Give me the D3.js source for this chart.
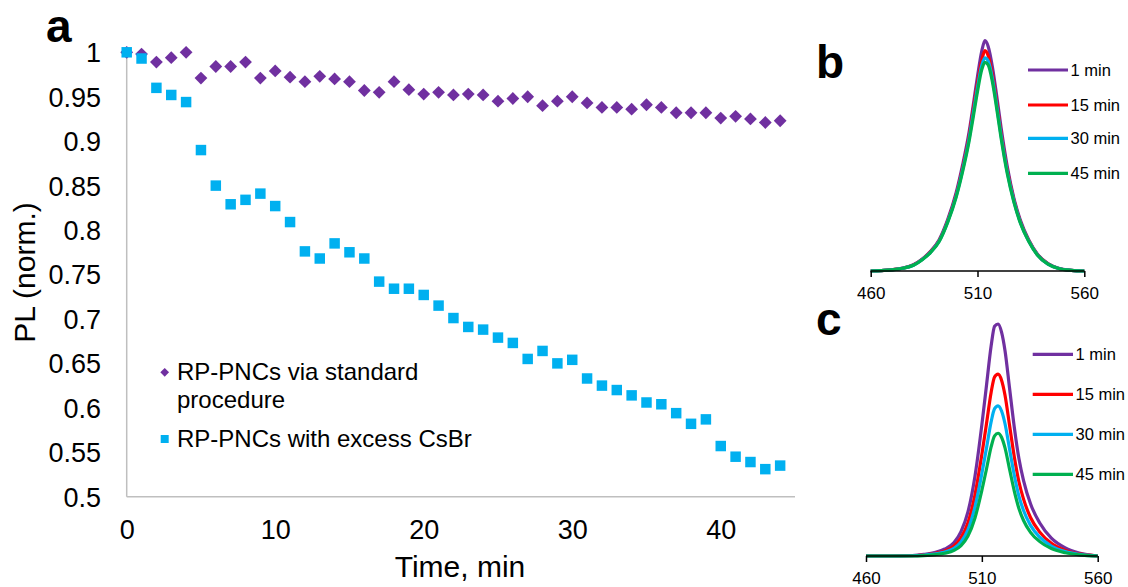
<!DOCTYPE html>
<html><head><meta charset="utf-8">
<script src="https://cdn.jsdelivr.net/npm/d3@7"></script>
<style>
html,body{margin:0;padding:0;background:#fff;}
svg{display:block;font-family:"Liberation Sans",Arial,sans-serif;}
</style></head>
<body><svg id="c" width="1128" height="587"></svg>
<script>
// ---------- Panel a data ----------
const times = [0,1,2,3,4,5,6,7,8,9,10,11,12,13,14,15,16,17,18,19,20,21,22,23,24,25,26,27,28,29,30,31,32,33,34,35,36,37,38,39,40,41,42,43,44];
const standardPL = [1.000,0.998,0.989,0.994,1.000,0.971,0.984,0.984,0.989,0.971,0.979,0.972,0.967,0.973,0.970,0.967,0.957,0.955,0.967,0.958,0.953,0.955,0.952,0.953,0.952,0.945,0.948,0.950,0.940,0.945,0.950,0.943,0.938,0.938,0.936,0.941,0.938,0.932,0.932,0.932,0.926,0.928,0.925,0.921,0.923];
const excessPL = [1.000,0.993,0.960,0.952,0.944,0.890,0.850,0.829,0.834,0.841,0.827,0.809,0.776,0.768,0.785,0.775,0.768,0.742,0.734,0.734,0.727,0.715,0.701,0.691,0.688,0.679,0.673,0.655,0.664,0.650,0.654,0.633,0.625,0.620,0.614,0.606,0.604,0.594,0.582,0.587,0.557,0.545,0.539,0.531,0.535];
const seriesNames = ["RP-PNCs via standard procedure","RP-PNCs with excess CsBr"];
const yTicksA = [1,0.95,0.9,0.85,0.8,0.75,0.7,0.65,0.6,0.55,0.5];
const xTicksA = [0,10,20,30,40];

// ---------- Panel b data (PL spectra, standard) ----------
const wlB = [460,465,470,475,480,484,488,492,496,500,503,506,508,510,512,513.5,515,517,519,521,524,527,530,534,538,543,548,554,560];
const b1min  = [0,0.002,0.006,0.013,0.027,0.051,0.085,0.135,0.222,0.340,0.460,0.600,0.720,0.845,0.955,1.000,0.975,0.885,0.760,0.625,0.450,0.318,0.222,0.135,0.074,0.032,0.012,0.003,0];
const b15min = [0,0.002,0.006,0.012,0.026,0.050,0.083,0.131,0.216,0.330,0.446,0.582,0.700,0.815,0.915,0.957,0.935,0.852,0.732,0.602,0.435,0.310,0.216,0.132,0.072,0.031,0.011,0.003,0];
const b30min = [0,0.002,0.005,0.012,0.025,0.049,0.081,0.129,0.213,0.325,0.438,0.571,0.684,0.797,0.893,0.925,0.912,0.836,0.718,0.591,0.428,0.305,0.213,0.130,0.071,0.030,0.011,0.003,0];
const b45min = [0,0.002,0.005,0.012,0.025,0.048,0.080,0.127,0.210,0.320,0.430,0.560,0.668,0.780,0.875,0.906,0.895,0.820,0.705,0.580,0.420,0.300,0.210,0.128,0.070,0.030,0.011,0.003,0];

// ---------- Panel c data (PL spectra, excess CsBr) ----------
const wlC = [460,470,480,485,490,494,498,501,504,507,510,512,514,515.5,517,518.5,520,522,524,526,528,531,535,540,546,552,560];
const c1min  = [0,0,0.002,0.007,0.016,0.030,0.058,0.105,0.190,0.342,0.565,0.735,0.905,0.990,1.000,0.965,0.885,0.720,0.555,0.420,0.325,0.225,0.142,0.077,0.035,0.013,0];
const c15min = [0,0,0.001,0.005,0.012,0.022,0.043,0.078,0.143,0.262,0.437,0.570,0.705,0.772,0.784,0.758,0.693,0.560,0.428,0.320,0.245,0.166,0.103,0.055,0.024,0.009,0];
const c30min = [0,0,0.001,0.004,0.009,0.017,0.033,0.061,0.113,0.210,0.355,0.465,0.578,0.635,0.647,0.625,0.570,0.458,0.348,0.258,0.196,0.132,0.081,0.043,0.019,0.007,0];
const c45min = [0,0,0,0.002,0.006,0.012,0.024,0.045,0.086,0.163,0.283,0.375,0.470,0.518,0.529,0.512,0.466,0.372,0.280,0.205,0.153,0.102,0.062,0.032,0.014,0.005,0];

const spectrumLabels = ["1 min","15 min","30 min","45 min"];
const spectrumColors = ["#7030A0","#FF0000","#00B0F0","#00B050"];
const wlTicks = [460,510,560];

const svg = d3.select("#c");

// ================= Panel a =================
const xA = d3.scaleLinear().domain([0,45]).range([126.7,795]);
const yA = d3.scaleLinear().domain([0.5,1]).range([496.7,52.3]);
const axisGray = "#BFBFBF";

svg.append("line").attr("x1",xA(0)).attr("x2",xA(0)).attr("y1",yA(1)).attr("y2",yA(0.5))
  .attr("stroke",axisGray).attr("stroke-width",1.5);
svg.append("line").attr("x1",xA(0)).attr("x2",xA(45)).attr("y1",yA(0.5)).attr("y2",yA(0.5))
  .attr("stroke",axisGray).attr("stroke-width",1.5);

const fmt = d3.format("~g");
const yAxisA = d3.axisLeft(yA).tickValues(yTicksA).tickFormat(fmt).tickSize(0).tickPadding(0);
const gy = svg.append("g").attr("transform","translate(101,0)").call(yAxisA);
gy.select(".domain").remove();
gy.selectAll("text").attr("font-size",27).attr("fill","#000").attr("font-family","Liberation Sans, Arial, sans-serif").attr("dy","0.35em");

const xAxisA = d3.axisBottom(xA).tickValues(xTicksA).tickFormat(fmt).tickSize(0).tickPadding(0);
const gx = svg.append("g").attr("transform","translate(0,539)").call(xAxisA);
gx.select(".domain").remove();
gx.selectAll("text").attr("font-size",27).attr("fill","#000").attr("font-family","Liberation Sans, Arial, sans-serif").attr("dy",0);

svg.append("text").attr("x",460).attr("y",577).attr("text-anchor","middle")
  .attr("font-size",30).text("Time, min");
svg.append("text").attr("transform","translate(35,272.5) rotate(-90)").attr("text-anchor","middle")
  .attr("font-size",30).text("PL (norm.)");

const diamond = d3.symbol().type(d3.symbolSquare).size(82);
const square = d3.symbol().type(d3.symbolSquare).size(110);
svg.append("g").selectAll("path").data(times).join("path")
  .attr("d",diamond)
  .attr("transform",(d,i)=>`translate(${xA(d)},${yA(standardPL[i])}) rotate(45)`)
  .attr("fill","#7030A0");
svg.append("g").selectAll("path").data(times).join("path")
  .attr("d",square)
  .attr("transform",(d,i)=>`translate(${xA(d)},${yA(excessPL[i])})`)
  .attr("fill","#00B0F0");

svg.append("path").attr("d",d3.symbol().type(d3.symbolSquare).size(38)())
  .attr("transform","translate(164.7,372.3) rotate(45)").attr("fill","#7030A0");
svg.append("path").attr("d",d3.symbol().type(d3.symbolSquare).size(64)())
  .attr("transform","translate(164.7,439)").attr("fill","#00B0F0");
const lg1 = svg.append("text").attr("x",177).attr("y",379.5).attr("font-size",24).attr("fill","#000");
lg1.append("tspan").attr("x",177).text("RP-PNCs via standard");
lg1.append("tspan").attr("x",177).attr("dy",28.5).text("procedure");
svg.append("text").attr("x",177).attr("y",447).attr("font-size",24).attr("fill","#000").text(seriesNames[1]);

svg.append("text").attr("x",46).attr("y",42).attr("font-size",46).attr("font-weight","bold").text("a");

// ================= Spectrum panels =================
function spectrumPanel(cfg){
  const x = d3.scaleLinear().domain([460,560]).range([cfg.x0,cfg.x1]);
  const y = d3.scaleLinear().domain([0,1]).range([cfg.base,cfg.top]);
  const line = d3.line().x(d=>x(d[0])).y(d=>y(d[1])).curve(d3.curveMonotoneX);
  cfg.series.forEach((vals,k)=>{
    svg.append("path").datum(cfg.wl.map((w,i)=>[w,vals[i]]))
      .attr("d",line).attr("fill","none").attr("stroke",spectrumColors[k])
      .attr("stroke-width",3.2).attr("stroke-linejoin","round");
  });
  const ax = d3.axisBottom(x).tickValues(wlTicks).tickSize(6).tickPadding(0).tickFormat(d3.format("d"));
  const g = svg.append("g").attr("transform",`translate(0,${cfg.base})`).call(ax);
  g.select(".domain").attr("stroke","#000").attr("stroke-width",1.5).attr("d",`M${cfg.x0},0H${cfg.x1}`);
  g.selectAll(".tick line").attr("stroke","#000").attr("stroke-width",1.5);
  g.selectAll("text").attr("font-size",17).attr("fill","#000").attr("dy",0).attr("y",27.5)
    .attr("font-family","Liberation Sans, Arial, sans-serif");
  spectrumLabels.forEach((lab,k)=>{
    const ly = cfg.legY[k];
    svg.append("line").attr("x1",cfg.legX0).attr("x2",cfg.legX1).attr("y1",ly).attr("y2",ly)
      .attr("stroke",spectrumColors[k]).attr("stroke-width",3.2);
    svg.append("text").attr("x",cfg.legX1+2.5).attr("y",ly+5.5).attr("font-size",16.5).attr("fill","#000").text(lab);
  });
  svg.append("text").attr("x",cfg.labX).attr("y",cfg.labY).attr("font-size",46).attr("font-weight","bold").text(cfg.label);
}

spectrumPanel({x0:870.7,x1:1084.3,base:271,top:40.7,wl:wlB,series:[b1min,b15min,b30min,b45min],
  legX0:1028,legX1:1068,legY:[70,105,138.3,173.3],label:"b",labX:816,labY:78});
spectrumPanel({x0:866,x1:1097.7,base:556,top:324,wl:wlC,series:[c1min,c15min,c30min,c45min],
  legX0:1032.7,legX1:1073,legY:[354.3,394.3,434.3,474.3],label:"c",labX:816,labY:335});
</script>
</body></html>
